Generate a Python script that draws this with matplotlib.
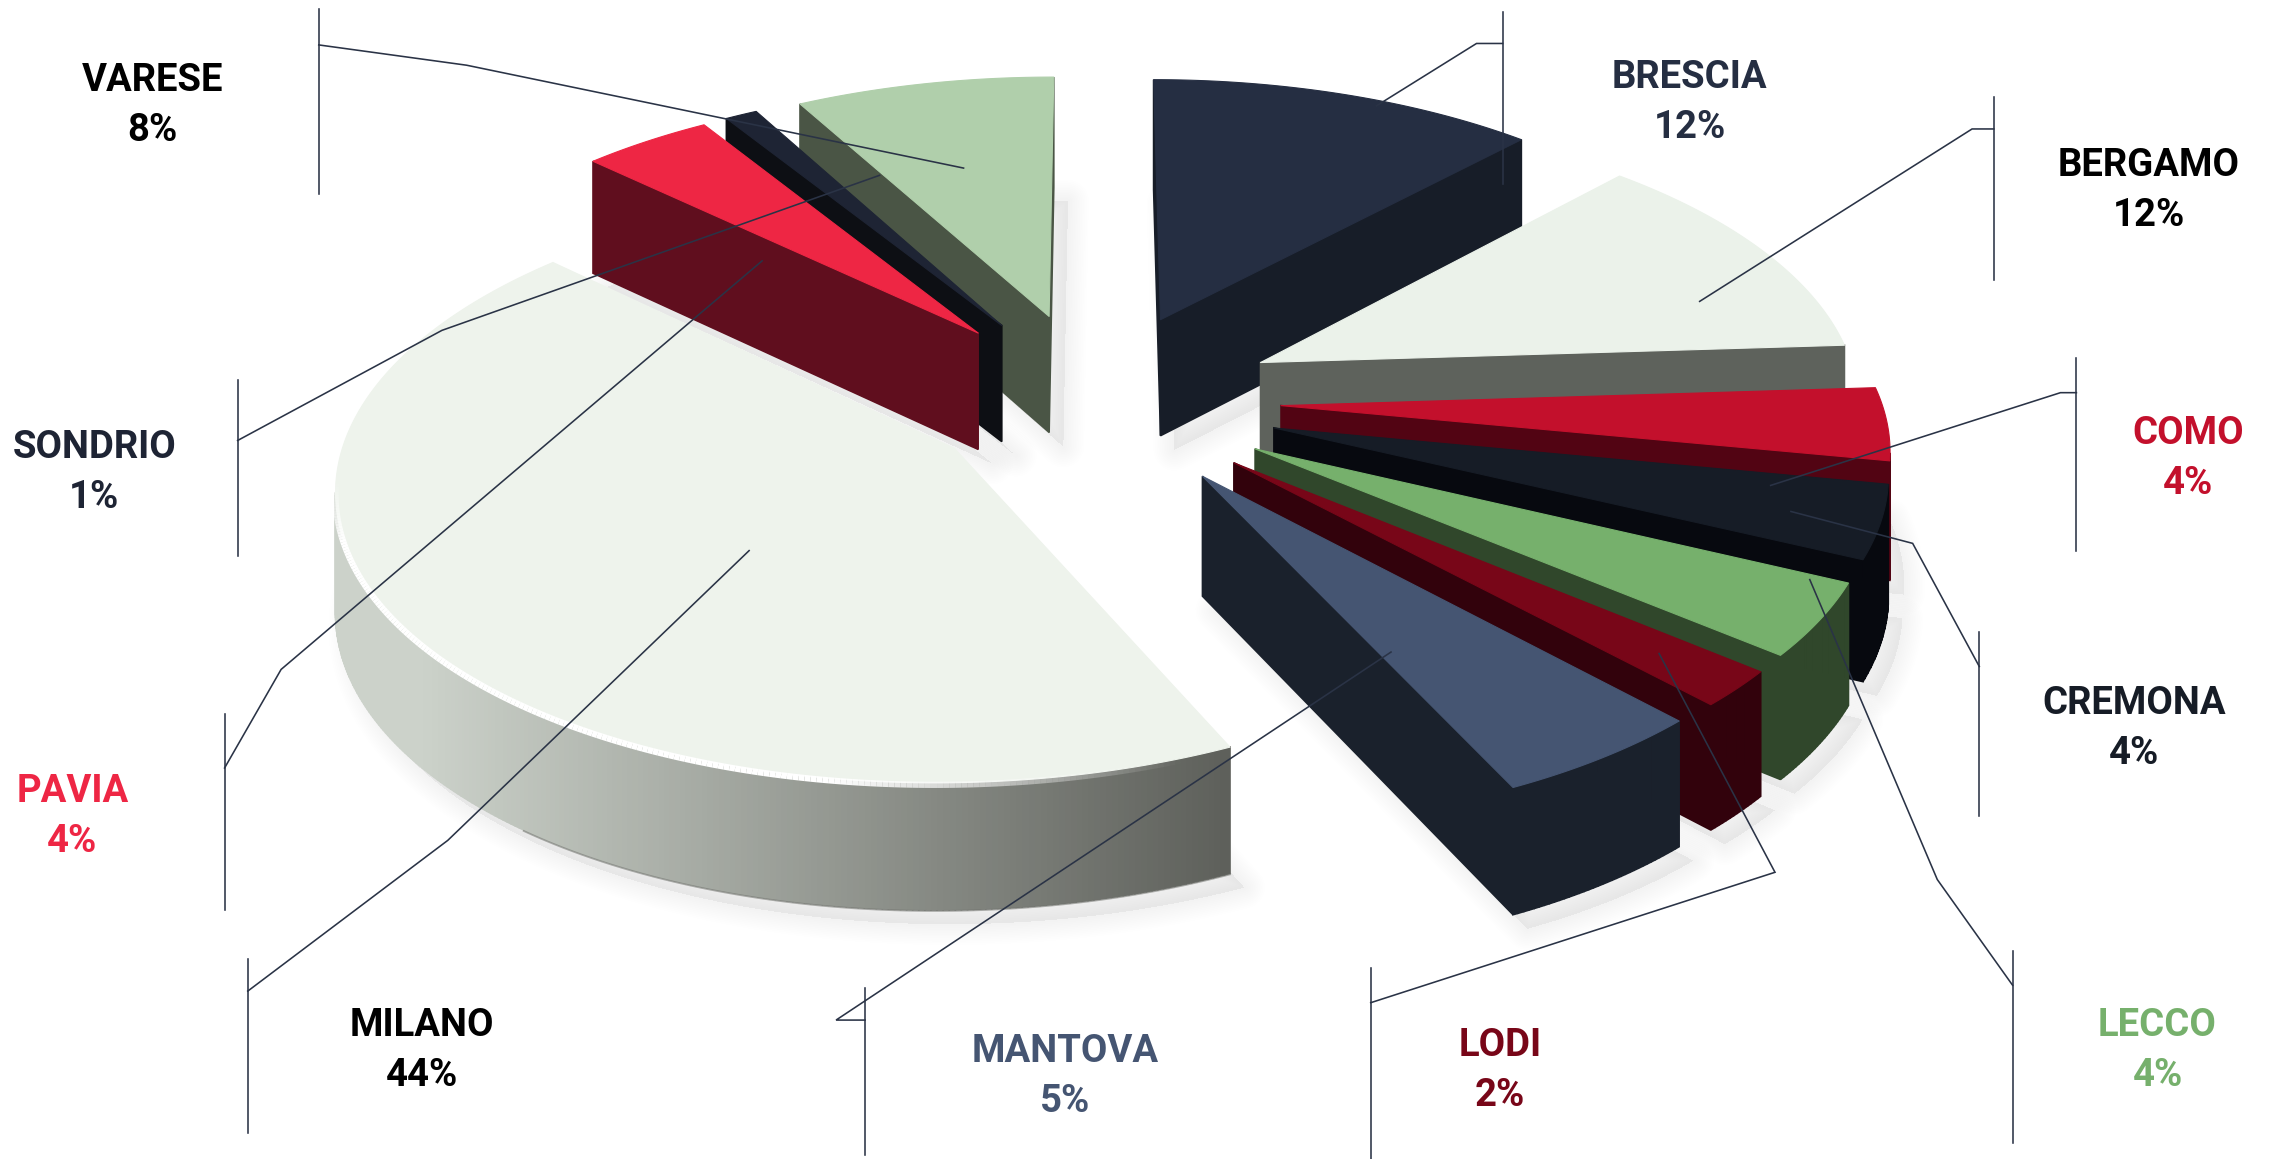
import numpy as np
import matplotlib
matplotlib.use("Agg")
import matplotlib.pyplot as plt
from matplotlib.colors import to_rgb
from matplotlib.patches import Polygon

categories = ["BRESCIA", "BERGAMO", "COMO", "CREMONA", "LECCO", "LODI", "MANTOVA",
              "MILANO", "PAVIA", "SONDRIO", "VARESE"]
values = [12, 12, 4, 4, 4, 2, 5, 44, 4, 1, 8]
top_colors = ["#252e42", "#ebf2ea", "#c3102c", "#161c26", "#76b06c", "#780618", "#455572",
              "#eef3ec", "#ee2644", "#1e2434", "#b0cfab"]
wall_colors = ["#171d28", "#5e625c", "#520413", "#07090f", "#30472b", "#32020c", "#1a212c",
               "#8f938c", "#600e1e", "#0d0f14", "#4a5545"]
label_colors = ["#252e42", "#000000", "#c3102c", "#161c26", "#76b06c", "#780618", "#455572",
                "#000000", "#ee2644", "#1e2434", "#000000"]
draw_order = ["MILANO", "BRESCIA", "BERGAMO", "COMO", "CREMONA", "LECCO", "LODI", "MANTOVA",
              "VARESE", "SONDRIO", "PAVIA"]

S = 2272 / 1568
label_pos = {"BRESCIA": (1166, 52), "BERGAMO": (1483, 113), "COMO": (1510, 298),
             "CREMONA": (1473, 484), "LECCO": (1489, 706), "LODI": (1035, 720),
             "MANTOVA": (735, 724), "MILANO": (291, 706), "PAVIA": (50, 545),
             "SONDRIO": (65, 307), "VARESE": (105, 54)}
leaders = {
    "BRESCIA": [[(1037, 8), (1037, 127)], [(1037, 30), (1019, 30), (950, 73)]],
    "BERGAMO": [[(1376, 67), (1376, 193)], [(1376, 89), (1361, 89), (1173, 208)]],
    "COMO": [[(1433, 247), (1433, 380)], [(1433, 271), (1422, 271), (1222, 335)]],
    "CREMONA": [[(1366, 436), (1366, 563)], [(1366, 460), (1320, 375), (1236, 353)]],
    "LECCO": [[(1389, 656), (1389, 789)], [(1389, 680), (1337, 607), (1249, 400)]],
    "LODI": [[(946, 668), (946, 800)], [(946, 692), (1225, 602), (1145, 451)]],
    "MANTOVA": [[(597, 682), (597, 797)], [(597, 704), (577, 704), (960, 450)]],
    "MILANO": [[(171, 662), (171, 782)], [(171, 684), (309, 580), (517, 380)]],
    "PAVIA": [[(155, 493), (155, 628)], [(155, 530), (194, 462), (526, 180)]],
    "SONDRIO": [[(164, 262), (164, 384)], [(164, 304), (305, 228), (607, 121)]],
    "VARESE": [[(220, 6), (220, 134)], [(220, 31), (322, 45), (665, 116)]],
}

# projection of the tilted, exploded pie
CX, CY = 1094.0, 400.0
RADIUS, EXPLODE, TILT, DIST, HEIGHT = 600.0, 187.0, 0.478, 5000.0, 118.0
slice_explode = {"MILANO": 169.0}
slice_depth_scale = {"MILANO": 0.985}


def project(u, v, drop=0.0):
    s = 1.0 / (1.0 + v / DIST)
    return np.column_stack([CX + u * s, CY - v * TILT * s + drop * np.sqrt(s)])


def slice_outline(name, a0, a1):
    mid = np.radians((a0 + a1) / 2)
    e = slice_explode.get(name, EXPLODE)
    ox, oy = e * np.sin(mid), e * np.cos(mid)
    th = np.radians(np.linspace(a0, a1, max(int((a1 - a0) * 2), 2) + 1))
    u = np.r_[ox, ox + RADIUS * np.sin(th)]
    v = np.r_[oy, oy + RADIUS * slice_depth_scale.get(name, 1.0) * np.cos(th)]
    return u, v


fig = plt.figure(figsize=(22.72, 11.59), dpi=100, facecolor="white")
ax = fig.add_axes([0, 0, 1, 1])
ax.set_xlim(0, 2272)
ax.set_ylim(1159, 0)
ax.axis("off")

edges = np.r_[0, np.cumsum(values)] / sum(values) * 360.0
shapes = {c: slice_outline(c, edges[i], edges[i + 1]) for i, c in enumerate(categories)}
tops = dict(zip(categories, top_colors))
walls = dict(zip(categories, wall_colors))

# soft drop shadows
for c in categories:
    u, v = shapes[c]
    low = project(u, v, HEIGHT) + np.array([14, 14])
    for lw in np.linspace(30, 3, 12):
        ax.add_patch(Polygon(low, closed=True, facecolor="#80808a", edgecolor="#80808a",
                             lw=lw, alpha=0.009, joinstyle="round", zorder=1))

LIGHT, DARK = np.array(to_rgb("#ccd2ca")), np.array(to_rgb("#5d5f5a"))
z = 2.0
for c in draw_order:
    u, v = shapes[c]
    top = project(u, v)
    low = project(u, v, HEIGHT)
    n = len(top)
    for i in range(n):
        j = (i + 1) % n
        if top[j, 0] - top[i, 0] >= 0:
            continue
        quad = np.array([top[i], top[j], low[j], low[i]])
        col = walls[c]
        if c == "MILANO":
            t = (np.mean(quad[:, 0]) - 420) / (1232 - 420)
            col = tuple(LIGHT + (DARK - LIGHT) * np.clip(t, 0, 1))
        ax.add_patch(Polygon(quad, closed=True, facecolor=col, edgecolor=col, lw=1.2, zorder=z))
    if c == "MILANO":
        arc_low = low[1:]
        stop = int(np.argmax(arc_low[:, 0] <= 520))
        arc_low = arc_low[:stop]
        ax.plot(arc_low[:, 0], arc_low[:, 1] + 1, color="#6f716c", lw=1.3, alpha=0.55, zorder=z + 0.05)
    ax.add_patch(Polygon(top, closed=True, facecolor=tops[c], edgecolor=tops[c], lw=0.8,
                         joinstyle="round", zorder=z + 0.2))
    if c == "MILANO":
        arc = top[1:]
        for i in range(len(arc) - 1):
            xm = (arc[i, 0] + arc[i + 1, 0]) / 2
            a = np.clip((1180 - xm) / 350, 0, 1) * np.clip((arc[i, 1] - 480) / 60, 0, 1)
            ax.plot(arc[i:i + 2, 0], arc[i:i + 2, 1] + 2, color="white", lw=4.5, alpha=float(a),
                    solid_capstyle="butt", zorder=z + 0.3)
    z += 1

# leader lines
for c, parts in leaders.items():
    for part in parts:
        p = np.array(part) * S
        ax.plot(p[:, 0], p[:, 1], color="#2a3346", lw=1.15, solid_joinstyle="miter", zorder=50)

# labels
font = ["Roboto", "Liberation Sans"]
for c, val, col in zip(categories, values, label_colors):
    x, y = label_pos[c]
    ax.text(x * S, (y + 1.5) * S, c, ha="center", va="center", color=col, fontsize=27.5,
            fontweight="bold", family=font, zorder=60)
    ax.text(x * S, (y + 36) * S, f"{val}%", ha="center", va="center", color=col, fontsize=27.5,
            fontweight="bold", family=font, zorder=60)

fig.savefig("out.png", dpi=100, facecolor="white")
